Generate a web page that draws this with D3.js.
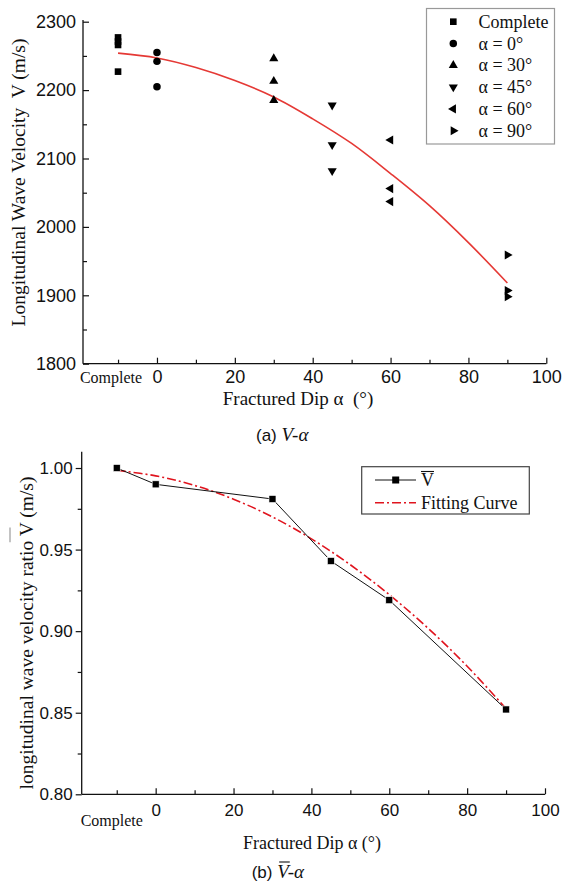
<!DOCTYPE html>
<html>
<head>
<meta charset="utf-8">
<script src="https://cdn.jsdelivr.net/npm/d3@7"></script>
<style>
  html, body { margin: 0; padding: 0; background: #fff; }
  svg { display: block; }
</style>
</head>
<body>
<svg id="chart" width="563" height="883"></svg>
<script>
// ---- Data -------------------------------------------------------------
const dipTicks = [0, 20, 40, 60, 80, 100];
const dipMinorTicks = [-10, 10, 30, 50, 70, 90];
const completeDip = -10;           // "Complete" specimens sit left of 0°
const completeLabel = "Complete";

// (a) wave velocity by fracture dip
const groupNames = ["Complete", "α = 0°", "α = 30°", "α = 45°", "α = 60°", "α = 90°"];
const groupDips = [-10, 0, 30, 45, 60, 90];
const velComplete = [2277, 2271, 2266, 2227];
const vel0 = [2255, 2242, 2205];
const vel30 = [2246, 2213, 2185];
const vel45 = [2178, 2120, 2082];
const vel60 = [2127, 2056, 2037];
const vel90 = [1959, 1907, 1898];
const velTicks = [1800, 1900, 2000, 2100, 2200, 2300];
const velMinorTicks = [1850, 1950, 2050, 2150, 2250];
// fitted curve, read at every 10°
const fitDipA = [-10, 0, 10, 20, 30, 40, 50, 60, 70, 80, 90];
const fitVelA = [2254, 2247, 2233, 2214, 2190, 2158, 2122, 2078, 2031, 1977, 1918];

// (b) mean velocity ratio
const ratioDips = [-10, 0, 30, 45, 60, 90];
const ratioMean = [1.000, 0.990, 0.981, 0.943, 0.919, 0.852];
const ratioTicks = [0.80, 0.85, 0.90, 0.95, 1.00];
const ratioMinorTicks = [0.825, 0.875, 0.925, 0.975];
const fitDipB = [-10, 0, 10, 20, 30, 40, 50, 60, 70, 80, 90];
const fitRatioB = [0.9986, 0.9952, 0.9893, 0.9809, 0.9700, 0.9566, 0.9407, 0.9224, 0.9017, 0.8785, 0.8525];

// ---- Drawing ----------------------------------------------------------
const SANS = "'Liberation Sans', Arial, sans-serif";
const SERIF = "'Liberation Serif', 'Times New Roman', serif";
const svg = d3.select("#chart");

const groupValues = [velComplete, vel0, vel30, vel45, vel60, vel90];
const symbolSpec = [
  { type: d3.symbolSquare, size: 44, rot: 0 },
  { type: d3.symbolCircle, size: 44, rot: 0 },
  { type: d3.symbolTriangle, size: 36, rot: 0 },
  { type: d3.symbolTriangle, size: 36, rot: 180 },
  { type: d3.symbolTriangle, size: 36, rot: -90 },
  { type: d3.symbolTriangle, size: 36, rot: 90 }
];

function drawXAxis(g, x, yPos, fontSize, pad) {
  const ax = g.append("g").attr("transform", `translate(0,${yPos})`)
    .call(d3.axisBottom(x).tickValues(dipTicks).tickSize(-6).tickPadding(pad).tickFormat(d3.format("d")));
  ax.select(".domain").remove();
  ax.selectAll("text").attr("font-family", SANS).attr("font-size", fontSize).attr("fill", "#111");
  ax.selectAll("line").attr("stroke", "#111").attr("stroke-width", 1.2);
  const mn = g.append("g").attr("transform", `translate(0,${yPos})`)
    .call(d3.axisBottom(x).tickValues(dipMinorTicks).tickSize(-4).tickFormat(""));
  mn.select(".domain").remove();
  mn.selectAll("line").attr("stroke", "#111").attr("stroke-width", 1.2);
  g.append("line").attr("x1", x.range()[0]).attr("x2", x.range()[1])
    .attr("y1", yPos).attr("y2", yPos).attr("stroke", "#111").attr("stroke-width", 1.3);
}

// ===== (a) V-α ==========================================================
{
  const x = d3.scaleLinear().domain([-19, 100]).range([83, 546.3]);
  const y = d3.scaleLinear().domain([1800, 2300]).range([363.7, 21.7]);
  const g = svg.append("g");

  // y axis, ticks pointing inward
  const ay = g.append("g").attr("transform", "translate(83,0)")
    .call(d3.axisLeft(y).tickValues(velTicks).tickSize(-6).tickPadding(7).tickFormat(d3.format("d")));
  ay.select(".domain").remove();
  ay.selectAll("text").attr("font-family", SANS).attr("font-size", 18).attr("fill", "#111");
  ay.selectAll("line").attr("stroke", "#111").attr("stroke-width", 1.2);
  const aym = g.append("g").attr("transform", "translate(83,0)")
    .call(d3.axisLeft(y).tickValues(velMinorTicks).tickSize(-4).tickFormat(""));
  aym.select(".domain").remove();
  aym.selectAll("line").attr("stroke", "#111").attr("stroke-width", 1.2);
  g.append("line").attr("x1", 83).attr("x2", 83).attr("y1", 20).attr("y2", 363.7)
    .attr("stroke", "#111").attr("stroke-width", 1.3);

  drawXAxis(g, x, 363.7, 18, 7);

  g.append("text").attr("x", x(completeDip) - 7).attr("y", 383)
    .attr("text-anchor", "middle").attr("font-family", SERIF).attr("font-size", 16)
    .attr("fill", "#111").text(completeLabel);

  g.append("text").attr("x", 298).attr("y", 405).attr("text-anchor", "middle")
    .attr("font-family", SERIF).attr("font-size", 19).attr("fill", "#111")
    .attr("xml:space", "preserve").text("Fractured Dip α  (°)");

  g.append("text").attr("transform", "translate(25,182.5) rotate(-90)")
    .attr("text-anchor", "middle").attr("font-family", SERIF).attr("font-size", 19.5)
    .attr("fill", "#111").attr("xml:space", "preserve")
    .text("Longitudinal Wave Velocity  V (m/s)");

  // fitted curve
  const fitPts = fitDipA.map((d, i) => [d, fitVelA[i]]);
  g.append("path").datum(fitPts)
    .attr("d", d3.line().x(d => x(d[0])).y(d => y(d[1])).curve(d3.curveCatmullRom))
    .attr("fill", "none").attr("stroke", "#e53935").attr("stroke-width", 1.6);

  // measured points
  groupValues.forEach((vals, gi) => {
    const s = symbolSpec[gi];
    const sym = d3.symbol().type(s.type).size(s.size);
    g.selectAll(null).data(vals).enter().append("path")
      .attr("d", sym)
      .attr("transform", v => `translate(${x(groupDips[gi])},${y(v)}) rotate(${s.rot})`)
      .attr("fill", "#000");
  });

  // legend
  const lg = g.append("g");
  lg.append("rect").attr("x", 426.5).attr("y", 8.5).attr("width", 128).attr("height", 135.5)
    .attr("fill", "#fff").attr("stroke", "#999").attr("stroke-width", 1.2);
  groupNames.forEach((name, i) => {
    const cy = 21.7 + i * 21.8;
    const s = symbolSpec[i];
    lg.append("path").attr("d", d3.symbol().type(s.type).size(s.size))
      .attr("transform", `translate(453.3,${cy}) rotate(${s.rot})`).attr("fill", "#000");
    lg.append("text").attr("x", 478.5).attr("y", cy + 6)
      .attr("font-family", SERIF).attr("font-size", 18).attr("fill", "#111").text(name);
  });

  // caption
  const cap = g.append("text").attr("x", 256).attr("y", 441).attr("fill", "#111");
  cap.append("tspan").attr("font-family", SANS).attr("font-size", 17).attr("xml:space", "preserve").text("(a) ");
  cap.append("tspan").attr("font-family", SERIF).attr("font-style", "italic").attr("font-size", 19).text("V-α");
}

// ===== (b) V̄-α =========================================================
{
  const x = d3.scaleLinear().domain([-19, 100]).range([81.7, 545]);
  const y = d3.scaleLinear().domain([0.80, 1.01]).range([794.3, 451.7]);
  const g = svg.append("g");

  // y axis, ticks pointing outward
  const ay = g.append("g").attr("transform", "translate(81.7,0)")
    .call(d3.axisLeft(y).tickValues(ratioTicks).tickSize(6).tickPadding(3).tickFormat(d3.format(".2f")));
  ay.select(".domain").remove();
  ay.selectAll("text").attr("font-family", SANS).attr("font-size", 17).attr("fill", "#111");
  ay.selectAll("line").attr("stroke", "#111").attr("stroke-width", 1.2);
  const aym = g.append("g").attr("transform", "translate(81.7,0)")
    .call(d3.axisLeft(y).tickValues(ratioMinorTicks).tickSize(4).tickFormat(""));
  aym.select(".domain").remove();
  aym.selectAll("line").attr("stroke", "#111").attr("stroke-width", 1.2);
  g.append("line").attr("x1", 81.7).attr("x2", 81.7).attr("y1", 451.7).attr("y2", 794.3)
    .attr("stroke", "#111").attr("stroke-width", 1.3);

  drawXAxis(g, x, 794.3, 17, 10);

  g.append("text").attr("x", x(completeDip) - 5).attr("y", 826)
    .attr("text-anchor", "middle").attr("font-family", SERIF).attr("font-size", 16)
    .attr("fill", "#111").text(completeLabel);

  g.append("text").attr("x", 312).attr("y", 849).attr("text-anchor", "middle")
    .attr("font-family", SERIF).attr("font-size", 18).attr("fill", "#111")
    .text("Fractured Dip α (°)");

  // rotated y label with an overbar on V
  const yl = g.append("g").attr("transform", "translate(33,633) rotate(-90)");
  const ylText = yl.append("text").attr("text-anchor", "middle")
    .attr("font-family", SERIF).attr("font-size", 19.5).attr("fill", "#111")
    .text("longitudinal wave velocity ratio V (m/s)");
  {
    const node = ylText.node();
    const full = node.getComputedTextLength();
    const str = node.textContent;
    const vi = str.indexOf("V");
    const start = -full / 2 + node.getSubStringLength(0, vi) - 6;
    const vw = node.getSubStringLength(vi, 1);
    yl.append("line").attr("x1", start).attr("x2", start + vw + 1)
      .attr("y1", -23).attr("y2", -23).attr("stroke", "#aaa").attr("stroke-width", 1.4);
  }

  // fitted curve (dash-dot)
  const fitPts = fitDipB.map((d, i) => [d, fitRatioB[i]]);
  g.append("path").datum(fitPts)
    .attr("d", d3.line().x(d => x(d[0])).y(d => y(d[1])).curve(d3.curveCatmullRom))
    .attr("fill", "none").attr("stroke", "#e0141e").attr("stroke-width", 1.6)
    .attr("stroke-dasharray", "9,3,2,3");

  // mean ratio line + markers
  const pts = ratioDips.map((d, i) => [d, ratioMean[i]]);
  g.append("path").datum(pts)
    .attr("d", d3.line().x(d => x(d[0])).y(d => y(d[1])))
    .attr("fill", "none").attr("stroke", "#111").attr("stroke-width", 1);
  g.selectAll(null).data(pts).enter().append("rect")
    .attr("x", d => x(d[0]) - 3.5).attr("y", d => y(d[1]) - 3.5)
    .attr("width", 7).attr("height", 7).attr("fill", "#000")
    .attr("stroke", "#fff").attr("stroke-width", 0.6);

  // legend
  const lg = g.append("g");
  lg.append("rect").attr("x", 361.7).attr("y", 466.7).attr("width", 167.6).attr("height", 47.3)
    .attr("fill", "#fff").attr("stroke", "#444").attr("stroke-width", 1.2);
  lg.append("line").attr("x1", 375).attr("x2", 416).attr("y1", 480).attr("y2", 480)
    .attr("stroke", "#111").attr("stroke-width", 1);
  lg.append("rect").attr("x", 395.7 - 3.5).attr("y", 480 - 3.5).attr("width", 7).attr("height", 7)
    .attr("fill", "#000");
  const vt = lg.append("text").attr("x", 421).attr("y", 486)
    .attr("font-family", SERIF).attr("font-size", 18).attr("fill", "#111").text("V");
  const vtw = vt.node().getComputedTextLength();
  lg.append("line").attr("x1", 421).attr("x2", 421 + vtw).attr("y1", 471.5).attr("y2", 471.5)
    .attr("stroke", "#111").attr("stroke-width", 1.1);
  lg.append("line").attr("x1", 375).attr("x2", 416).attr("y1", 502.7).attr("y2", 502.7)
    .attr("stroke", "#e0141e").attr("stroke-width", 1.6).attr("stroke-dasharray", "9,3,2,3");
  lg.append("text").attr("x", 421).attr("y", 508.5)
    .attr("font-family", SERIF).attr("font-size", 18).attr("fill", "#111").text("Fitting Curve");

  // caption with overbar on V
  const cap = g.append("text").attr("x", 251.7).attr("y", 878).attr("fill", "#111");
  cap.append("tspan").attr("font-family", SANS).attr("font-size", 17)
    .attr("xml:space", "preserve").text("(b) ");
  cap.append("tspan").attr("font-family", SERIF).attr("font-style", "italic")
    .attr("font-size", 19).text("V");
  cap.append("tspan").attr("font-family", SERIF).attr("font-style", "italic")
    .attr("font-size", 19).text("-α");
  const capNode = cap.node();
  const vStart = capNode.getSubStringLength(0, 4);
  const vW = capNode.getSubStringLength(4, 1);
  g.append("line").attr("x1", 251.7 + vStart + 2).attr("x2", 251.7 + vStart + vW + 2)
    .attr("y1", 862).attr("y2", 862).attr("stroke", "#111").attr("stroke-width", 1.1);
}
</script>
</body>
</html>
